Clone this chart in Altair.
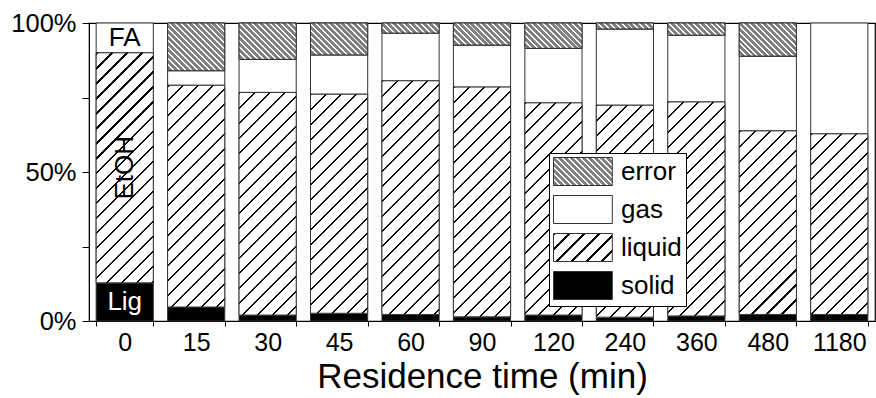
import math
import altair as alt
import pandas as pd

# ---------------- data (percent of input) ----------------
times = ["0", "15", "30", "45", "60", "90", "120", "240", "360", "480", "1180"]
solid = [12.8, 4.7, 2.0, 2.6, 2.2, 1.4, 2.0, 1.3, 1.7, 2.2, 2.2]
liquid = [77.2, 74.4, 74.7, 73.5, 78.4, 77.1, 71.2, 71.1, 71.8, 61.6, 60.6]
gas = [10.0, 4.9, 11.1, 13.2, 16.0, 14.1, 18.3, 25.6, 22.4, 25.1, 37.2]
error = [0.0, 16.0, 12.2, 10.7, 3.4, 7.4, 8.5, 2.0, 4.1, 11.1, 0.0]
components = ["solid", "liquid", "gas", "error"]
legend_order = ["error", "gas", "liquid", "solid"]
first_bar_labels = ["Lig", "EtOH", "FA"]

# ---------------- layout ----------------
PLOT_W, PLOT_H = 786, 298
PAD_IN, PAD_OUT = 0.2, 0.1
STEP = PLOT_W / (len(times) - PAD_IN + 2 * PAD_OUT)
BW = STEP * (1 - PAD_IN)
FONT = "Liberation Sans"

rows = []
series = {"solid": solid, "liquid": liquid, "gas": gas, "error": error}
for i, t in enumerate(times):
    lo = 0.0
    for comp in components:
        v = series[comp][i]
        if v > 0:
            rows.append({"time": t, "component": comp, "lo": lo, "hi": lo + v, "value": v})
        lo += v
df = pd.DataFrame(rows)


def hatch_spec(w, h, period, line_w, line_color, bg_color, direction):
    """Striped linear gradient (objectBoundingBox) giving 45-degree hatching."""
    c = (w + h) / (w * w + h * h)
    if direction == "/":
        x1, y1, x2, y2 = 0, 0, c * w, c * h
    else:
        x1, y1, x2, y2 = 0, 1, c * w, 1 - c * h
    total = (w + h) / math.sqrt(2)
    stops = []
    k = 0
    while k * period < total:
        o0 = k * period / total
        o1 = min((k * period + line_w) / total, 1.0)
        o2 = min((k + 1) * period / total, 1.0)
        stops += [
            (round(o0, 6), line_color),
            (round(o1, 6), line_color),
            (round(o1, 6), bg_color),
            (round(o2, 6), bg_color),
        ]
        k += 1
    return dict(x1=round(x1, 6), y1=round(y1, 6), x2=round(x2, 6), y2=round(y2, 6), stops=stops)


def to_gradient(s):
    return alt.LinearGradient(
        gradient="linear", x1=s["x1"], y1=s["y1"], x2=s["x2"], y2=s["y2"],
        stops=[{"offset": o, "color": c} for o, c in s["stops"]],
    )


def to_expr(s):
    stops = ",".join("{offset:%s,color:'%s'}" % (o, c) for o, c in s["stops"])
    return "{gradient:'linear',x1:%s,y1:%s,x2:%s,y2:%s,stops:[%s]}" % (
        s["x1"], s["y1"], s["x2"], s["y2"], stops)


def liquid_spec(w, h):
    return hatch_spec(w, h, 10.6, 1.5, "#000000", "#ffffff", "/")


def error_spec(w, h):
    return hatch_spec(w, h, 4.2, 1.4, "#ffffff", "#7f7f7f", "\\")


x_scale = alt.Scale(domain=times, paddingInner=PAD_IN, paddingOuter=PAD_OUT)
y_scale = alt.Scale(domain=[0, 100], nice=False)
x_axis = alt.Axis(
    title="Residence time (min)",
    titleFontSize=35,
    titleFont=FONT,
    titleFontWeight="normal",
    titleColor="black",
    titlePadding=4,
    labelFontSize=25,
    labelFont=FONT,
    labelColor="black",
    labelAngle=0,
    labelPadding=4,
    tickBand="extent",
    tickSize=5,
    tickColor="black",
    domainColor="black",
    grid=False,
)
y_axis = alt.Axis(
    title=None,
    values=[0, 25, 50, 75, 100],
    labelExpr="datum.value % 50 === 0 ? datum.value + '%' : ''",
    labelFontSize=25.5,
    labelFont=FONT,
    labelColor="black",
    labelPadding=6,
    labelFlush=False,
    labelOverlap=False,
    tickSize=7,
    tickColor="black",
    domainColor="black",
    grid=False,
)
x_enc = alt.X("time:N", sort=times, scale=x_scale, axis=x_axis)
y_enc = alt.Y("lo:Q", scale=y_scale, axis=y_axis)

SYM = 28.0
SYM_W = 58.8
legend_range = [
    alt.ExprRef(expr=to_expr(error_spec(SYM_W, SYM))),
    "#ffffff",
    alt.ExprRef(expr=to_expr(liquid_spec(SYM_W, SYM))),
    "#000000",
]

legend = alt.Legend(
    title=None,
    orient="none",
    legendX=460,
    legendY=130,
    strokeColor="black",
    fillColor="white",
    padding=4,
    cornerRadius=0,
    symbolType="M-1,-1H3.2V1H-1Z",
    symbolSize=SYM * SYM,
    symbolStrokeColor="#333333",
    symbolStrokeWidth=1,
    symbolOpacity=1,
    labelFontSize=26,
    labelFont=FONT,
    labelColor="black",
    labelOffset=39,
    rowPadding=5,
)

base = alt.Chart(df).mark_bar(stroke="#333333", strokeWidth=1, opacity=1).encode(
    x=x_enc,
    y=y_enc,
    y2="hi:Q",
    color=alt.Color(
        "component:N",
        scale=alt.Scale(domain=legend_order, range=legend_range),
        legend=legend,
    ),
)

layers = [base]
for r in rows:
    if r["component"] not in ("liquid", "error"):
        continue
    h = r["value"] / 100.0 * PLOT_H
    spec = liquid_spec(BW, h) if r["component"] == "liquid" else error_spec(BW, h)
    layers.append(
        alt.Chart(pd.DataFrame([r]))
        .mark_bar(fill=to_gradient(spec), stroke="#333333", strokeWidth=1)
        .encode(x=x_enc, y=y_enc, y2="hi:Q")
    )

# labels inside the first bar
lab_df = pd.DataFrame(
    {
        "time": [times[0]] * 3,
        "lo": [solid[0] / 2, solid[0] + liquid[0] / 2, solid[0] + liquid[0] + gas[0] / 2],
        "text": first_bar_labels,
    }
)
txt_lig = alt.Chart(lab_df[lab_df.text == "Lig"]).mark_text(
    color="white", fontSize=26, font=FONT, baseline="middle", align="center"
).encode(x=x_enc, y=y_enc, text="text:N")
txt_fa = alt.Chart(lab_df[lab_df.text == "FA"]).mark_text(
    color="black", fontSize=26, font=FONT, baseline="middle", align="center"
).encode(x=x_enc, y=y_enc, text="text:N")
txt_etoh = alt.Chart(lab_df[lab_df.text == "EtOH"]).mark_text(
    color="black", fontSize=26, font=FONT, baseline="middle", align="center", angle=270
).encode(x=x_enc, y=y_enc, text="text:N")
layers += [txt_lig, txt_fa, txt_etoh]

chart = (
    alt.layer(*layers)
    .properties(
        width=PLOT_W,
        height=PLOT_H,
        padding={"left": 89, "top": 23, "right": 1, "bottom": 77},
        autosize=alt.AutoSizeParams(type="none"),
        background="white",
    )
    .configure_view(stroke="black", strokeWidth=1.2)
)

chart.save("out.html", embed_options={"renderer": "svg", "actions": False})
